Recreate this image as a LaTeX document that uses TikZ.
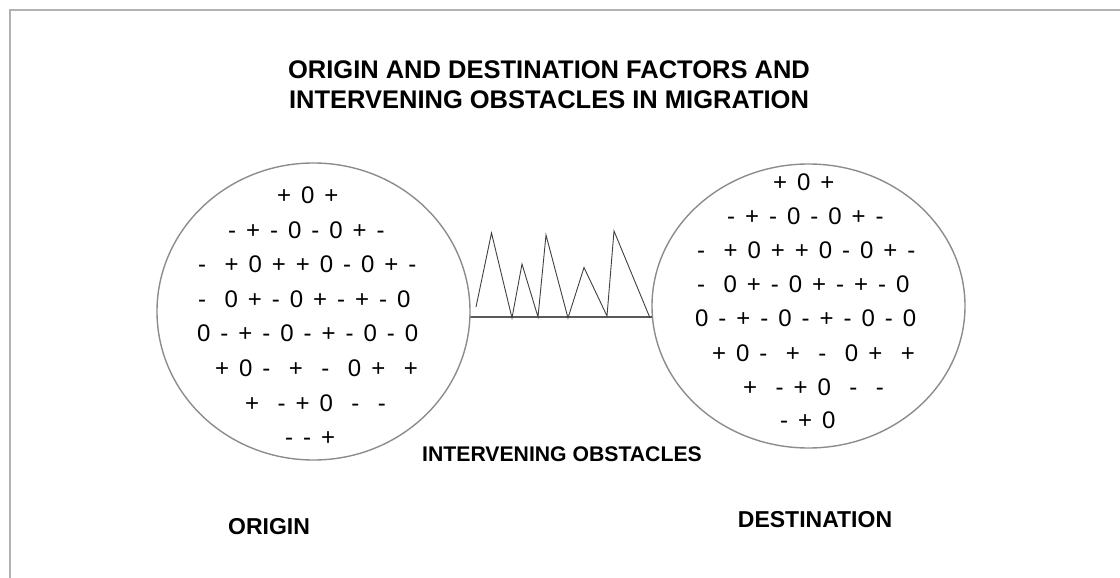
\documentclass[tikz,border=0pt]{standalone}
\usepackage{fontspec}
\setmainfont{Liberation Sans}
\usetikzlibrary{shapes.geometric}

\newcommand{\wgap}{\hspace{18.5pt}}

\tikzset{
	sym/.style={anchor=base west, inner sep=0pt, font={\fontsize{24}{24}\selectfont\spaceskip=0.415em\relax}},
	heading/.style={anchor=base, inner sep=0pt, font={\fontsize{25.5}{30}\selectfont\bfseries}},
	tag/.style={anchor=base, inner sep=0pt, font={\fontsize{23}{23}\selectfont\bfseries}},
	region/.style={draw=black!45, line width=1.4pt, ellipse, inner sep=0pt, minimum width=313pt},
}

\begin{document}
\begin{tikzpicture}[x=1pt, y=-1pt]
			\useasboundingbox (0,0) rectangle (1120,578);
			
				% frame
				\draw[black!30, line width=1.5pt] (10,578) -- (10,10) -- (1120,10);
				
				\node[heading] (title1) at (549,78) {ORIGIN AND DESTINATION FACTORS AND};
				\node[heading] (title2) at (549,108) {INTERVENING OBSTACLES IN MIGRATION};
				
				\node[region, minimum height=297pt] (origin) at (313.5,311.5) {};
				\node[region, minimum height=284pt] (destination) at (808.5,306) {};
				
				% obstacles
				\draw[line width=1.3pt] (origin.-2.4) -- (destination.184.6);
				\draw[black!75, line width=0.9pt] (476,307) -- (491.5,233) -- (512,318) -- (522,264) -- (538,317)
					-- (546,235) -- (568,318) -- (584,267.5) -- (607,316) -- (614,231) -- (650,318);
				
				% origin factors
				\node[sym] (o1) at (277,203) {+ 0 +};
				\node[sym] (o2) at (228,238) {- + - 0 - 0 + -};
				\node[sym] (o3) at (198,272) {-\wgap{}+ 0 + + 0 - 0 + -};
				\node[sym] (o4) at (198,307) {-\wgap{}0 + - 0 + - + - 0};
				\node[sym] (o5) at (197,341) {0 - + - 0 - + - 0 - 0};
				\node[sym] (o6) at (215,376) {+ 0 -\wgap{}+\wgap{}-\wgap{}0 +\wgap{}+};
				\node[sym] (o7) at (245,411) {+\wgap{}- + 0\wgap{}-\wgap{}-};
				\node[sym] (o8) at (285,445) {- - +};
				
				% destination factors
				\node[sym] (d1) at (773,190) {+ 0 +};
				\node[sym] (d2) at (727,224) {- + - 0 - 0 + -};
				\node[sym] (d3) at (697,258) {-\wgap{}+ 0 + + 0 - 0 + -};
				\node[sym] (d4) at (697,292) {-\wgap{}0 + - 0 + - + - 0};
				\node[sym] (d5) at (695,326) {0 - + - 0 - + - 0 - 0};
				\node[sym] (d6) at (712,361) {+ 0 -\wgap{}+\wgap{}-\wgap{}0 +\wgap{}+};
				\node[sym] (d7) at (743,395) {+\wgap{}- + 0\wgap{}-\wgap{}-};
				\node[sym] (d8) at (780,428) {- + 0};
				
				\node[tag, font={\fontsize{21.2}{21}\selectfont\bfseries}] (obstlabel) at (562,461) {INTERVENING OBSTACLES};
				\node[tag] (originlabel) at (269,534) {ORIGIN};
				\node[tag] (destlabel) at (815,527) {DESTINATION};
			\end{tikzpicture}
\end{document}
